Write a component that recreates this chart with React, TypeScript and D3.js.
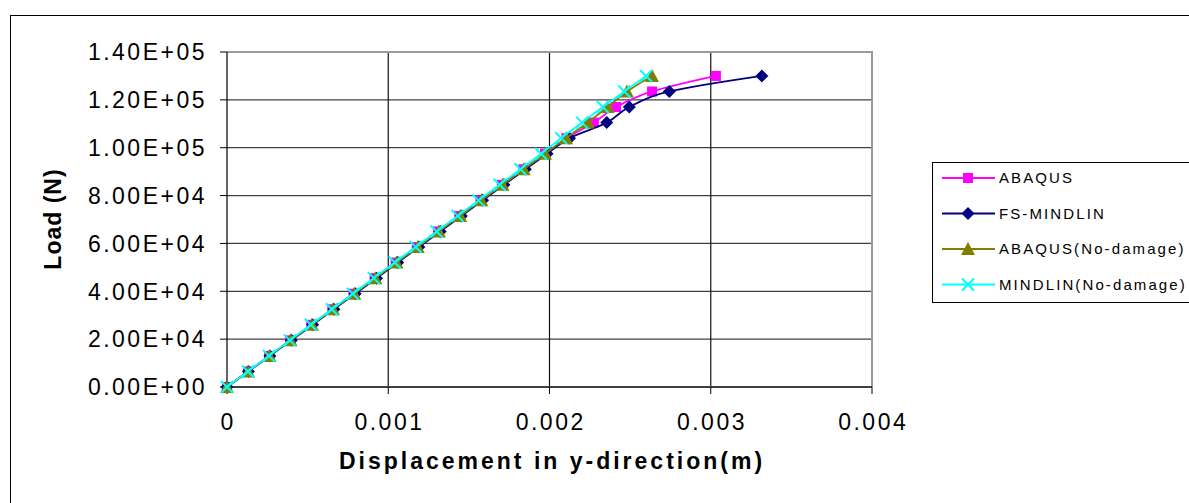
import * as d3 from "d3"
import React from "react"

// load steps (N), shared by all series
const loads = [
  0, 6500, 13000, 19500, 26000, 32500, 39000, 45500, 52000, 58500, 65000,
  71500, 78000, 84500, 91000, 97500, 104000, 110500, 117000, 123500, 130000,
]

// displacement in y (m) for each series
const abaqus = [
  0, 0.00013, 0.000261, 0.000392, 0.000522, 0.000653, 0.000784, 0.000915,
  0.001046, 0.001177, 0.001308, 0.00144, 0.001572, 0.001705, 0.001838,
  0.001972, 0.002105, 0.002275, 0.002413, 0.002636, 0.003032,
]
const fsMindlin = [
  0, 0.000133, 0.000266, 0.000399, 0.000531, 0.000663, 0.000795, 0.000927,
  0.001059, 0.00119, 0.001322, 0.001453, 0.001585, 0.001717, 0.00185,
  0.001985, 0.002124, 0.002355, 0.002495, 0.002743, 0.003317,
]
const abaqusNoDamage = [
  0, 0.000131, 0.000263, 0.000394, 0.000526, 0.000657, 0.000789, 0.00092,
  0.001051, 0.001183, 0.001314, 0.001446, 0.001577, 0.001709, 0.00184,
  0.001972, 0.002103, 0.002237, 0.00236, 0.00248, 0.002636,
]
const mindlinNoDamage = [
  0, 0.00013, 0.00026, 0.00039, 0.00052, 0.00065, 0.00078, 0.00091, 0.00104,
  0.00117, 0.0013, 0.00143, 0.00156, 0.00169, 0.00182, 0.001948, 0.002072,
  0.002202, 0.00233, 0.002464, 0.002599,
]

const seriesNames = ["ABAQUS", "FS-MINDLIN", "ABAQUS(No-damage)", "MINDLIN(No-damage)"]
const seriesColors = ["#ff00ff", "#000080", "#808000", "#00ffff"]
const seriesMarkers = ["square", "diamond", "triangle", "cross"]
const seriesValues = [abaqus, fsMindlin, abaqusNoDamage, mindlinNoDamage]

const xTicks = [0, 0.001, 0.002, 0.003, 0.004]
const xTickLabels = ["0", "0.001", "0.002", "0.003", "0.004"]
const yTicks = [0, 20000, 40000, 60000, 80000, 100000, 120000, 140000]
const yTickLabels = [
  "0.00E+00", "2.00E+04", "4.00E+04", "6.00E+04",
  "8.00E+04", "1.00E+05", "1.20E+05", "1.40E+05",
]

const font = "Arial, 'Liberation Sans', sans-serif"

const Marker = ({ kind, cx, cy, color }) => {
  if (kind === "square")
    return <rect x={cx - 5} y={cy - 5} width={10} height={10} fill={color} />
  if (kind === "diamond")
    return (
      <path
        d={`M${cx},${cy - 6.5}L${cx + 6.5},${cy}L${cx},${cy + 6.5}L${cx - 6.5},${cy}Z`}
        fill={color}
      />
    )
  if (kind === "triangle")
    return (
      <path
        d={`M${cx},${cy - 7}L${cx + 7},${cy + 6}L${cx - 7},${cy + 6}Z`}
        fill={color}
      />
    )
  return (
    <path
      d={`M${cx - 6},${cy - 6}L${cx + 6},${cy + 6}M${cx - 6},${cy + 6}L${cx + 6},${cy - 6}`}
      stroke={color}
      strokeWidth={2}
    />
  )
}

const App = () => {
  const x = d3.scaleLinear().domain([0, 0.004]).range([227, 872])
  const y = d3.scaleLinear().domain([0, 140000]).range([387, 52])

  const line = d3
    .line<number>()
    .x((d) => x(d))
    .y((d, i) => y(loads[i]))
    .curve(d3.curveCatmullRom.alpha(0))

  return (
    <svg
      width={1189}
      height={503}
      style={{ position: "absolute", left: 0, top: 0, background: "#fff" }}
      fontFamily={font}
    >
      <rect x={10.5} y={15.5} width={1200} height={500} fill="none" stroke="#000" />

      {/* grid */}
      {yTicks.slice(1, -1).map((t) => (
        <line key={"gy" + t} x1={227} x2={872} y1={y(t)} y2={y(t)} stroke="#404040" strokeWidth={1.2} />
      ))}
      {xTicks.slice(1, -1).map((t) => (
        <line key={"gx" + t} x1={x(t)} x2={x(t)} y1={52} y2={387} stroke="#111" strokeWidth={1.2} />
      ))}
      {/* plot border */}
      <path d="M227,52H872V387" fill="none" stroke="#9a9a9a" strokeWidth={2} />

      {/* axes */}
      <line x1={227} x2={227} y1={52} y2={388} stroke="#000" strokeWidth={1.2} />
      <line x1={226} x2={872} y1={387} y2={387} stroke="#404040" strokeWidth={2} />
      {yTicks.map((t, i) => (
        <g key={"yt" + t}>
          <line x1={220} x2={227} y1={y(t)} y2={y(t)} stroke="#000" />
          <text x={207} y={y(t)} dy="0.36em" textAnchor="end" fontSize={23} letterSpacing={2.5}>
            {yTickLabels[i]}
          </text>
        </g>
      ))}
      {xTicks.map((t, i) => (
        <g key={"xt" + t}>
          <line x1={x(t)} x2={x(t)} y1={387} y2={394} stroke="#000" />
          <text x={x(t) + 1.2} y={430} textAnchor="middle" fontSize={23} letterSpacing={2.5}>
            {xTickLabels[i]}
          </text>
        </g>
      ))}

      <text x={552} y={469} textAnchor="middle" fontSize={23} fontWeight="bold" letterSpacing={3}>
        Displacement in y-direction(m)
      </text>
      <text
        transform="translate(61,219) rotate(-90)"
        textAnchor="middle"
        fontSize={23}
        fontWeight="bold"
        letterSpacing={1}
      >
        Load (N)
      </text>

      {/* series */}
      {seriesValues.map((vals, s) => (
        <g key={"s" + s}>
          <path d={line(vals)} fill="none" stroke={seriesColors[s]} strokeWidth={1.8} />
          {vals.map((v, i) => (
            <Marker key={i} kind={seriesMarkers[s]} cx={x(v)} cy={y(loads[i])} color={seriesColors[s]} />
          ))}
        </g>
      ))}

      {/* legend */}
      <rect x={932.5} y={162.5} width={300} height={140} fill="#fff" stroke="#000" />
      {seriesNames.map((name, i) => {
        const ly = 178 + i * 35.5
        return (
          <g key={name}>
            <line x1={942} x2={995} y1={ly} y2={ly} stroke={seriesColors[i]} strokeWidth={1.8} />
            <Marker kind={seriesMarkers[i]} cx={968} cy={ly} color={seriesColors[i]} />
            <text x={999} y={ly} dy="0.36em" fontSize={15} letterSpacing={2.1}>
              {name}
            </text>
          </g>
        )
      })}
    </svg>
  )
}

export default App
